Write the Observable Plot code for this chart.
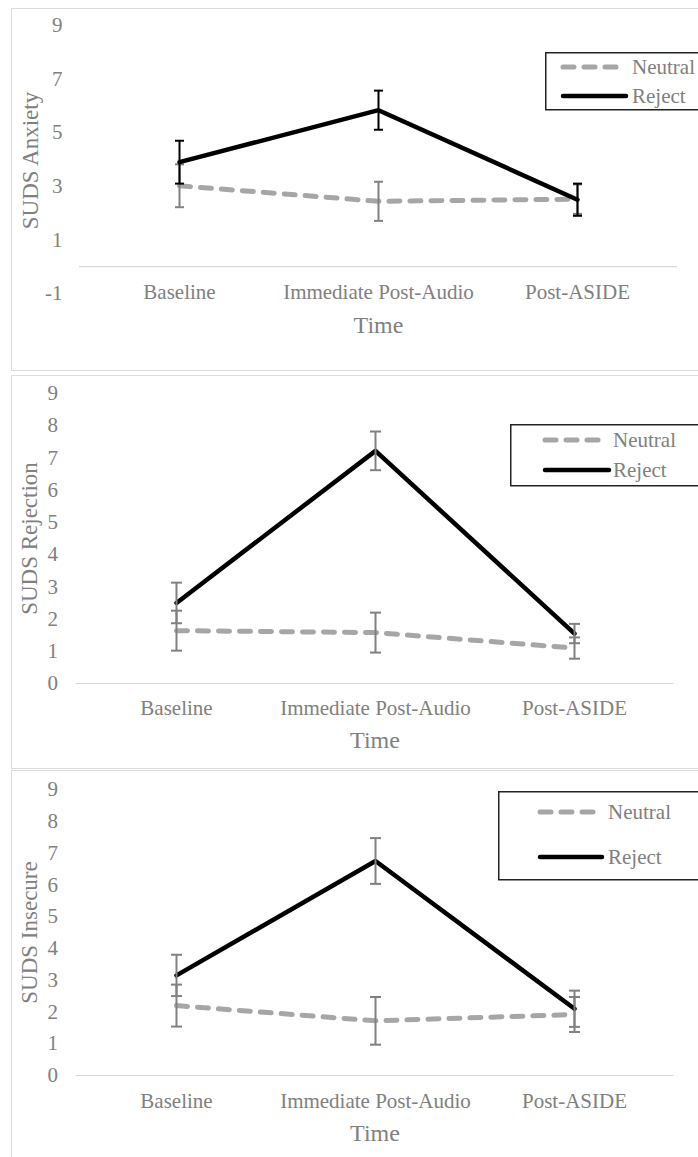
<!DOCTYPE html>
<html>
<head>
<meta charset="utf-8">
<script src="https://cdn.jsdelivr.net/npm/d3@7"></script>
<script src="https://cdn.jsdelivr.net/npm/@observablehq/plot@0.6"></script>
<style>
  html, body { margin: 0; padding: 0; background: #fff; }
  body { position: relative; width: 698px; height: 1157px; overflow: hidden; font-family: "Liberation Serif", "Times New Roman", serif; }
  .panel { position: absolute; border: 1px solid #dcdcdc; border-right: none; box-sizing: border-box; }
  .chart { position: absolute; left: 0; }
  .legend { position: absolute; }
</style>
</head>
<body>
<script>
const times = ["Baseline", "Immediate Post-Audio", "Post-ASIDE"];
const groups = ["Neutral", "Reject"];

// SUDS Anxiety
const anxietyNeutral = [3.02, 2.44, 2.52];
const anxietyNeutralErr = [0.8, 0.73, 0.55];
const anxietyReject = [3.9, 5.84, 2.5];
const anxietyRejectErr = [0.8, 0.73, 0.6];
const anxietyTicks = [-1, 1, 3, 5, 7, 9];

// SUDS Rejection
const rejectionNeutral = [1.64, 1.58, 1.1];
const rejectionNeutralErr = [0.62, 0.62, 0.33];
const rejectionReject = [2.5, 7.22, 1.55];
const rejectionRejectErr = [0.63, 0.6, 0.3];
const rejectionTicks = [0, 1, 2, 3, 4, 5, 6, 7, 8, 9];

// SUDS Insecure
const insecureNeutral = [2.2, 1.72, 1.92];
const insecureNeutralErr = [0.66, 0.75, 0.55];
const insecureReject = [3.15, 6.75, 2.1];
const insecureRejectErr = [0.65, 0.72, 0.57];
const insecureTicks = [0, 1, 2, 3, 4, 5, 6, 7, 8, 9];

const FONT = "'Liberation Serif', 'Times New Roman', serif";
const GREY_TEXT = "#808080";
const NEUTRAL_COLOR = "#a6a6a6";
const REJECT_COLOR = "#000000";
const DASH = "11,10";

const cap = {
  draw(ctx, size) {
    const w = Math.sqrt(size / Math.PI);
    ctx.moveTo(-w, 0);
    ctx.lineTo(w, 0);
  }
};

function rows(vals, errs) {
  return times.map((t, i) => ({ time: t, v: vals[i], e: errs[i] }));
}

function panel(cfg) {
  const neutral = rows(cfg.neutral, cfg.neutralErr);
  const reject = rows(cfg.reject, cfg.rejectErr);
  const errMarks = (data, color, r) => [
    Plot.ruleX(data, { x: "time", y1: d => d.v - d.e, y2: d => d.v + d.e, stroke: color, strokeWidth: 2 }),
    Plot.dot(data, { x: "time", y: d => d.v + d.e, symbol: cap, r, stroke: color, strokeWidth: 2, fill: "none" }),
    Plot.dot(data, { x: "time", y: d => d.v - d.e, symbol: cap, r, stroke: color, strokeWidth: 2, fill: "none" })
  ];
  const chart = Plot.plot({
    width: 698,
    height: cfg.height,
    marginLeft: cfg.xRange[0],
    marginRight: 698 - cfg.xRange[1],
    marginTop: cfg.yRange[1],
    marginBottom: cfg.marginBottom,
    style: { fontFamily: FONT, fontSize: "21px", color: GREY_TEXT, background: "transparent", overflow: "visible" },
    x: { type: "point", domain: times, range: cfg.xRange, padding: 0.5 },
    y: { domain: cfg.domain, range: cfg.yRange },
    marks: [
      Plot.ruleY([0], { stroke: "#d9d9d9", strokeWidth: 1.2 }),
      Plot.axisY({ ticks: cfg.ticks, tickSize: 0, tickPadding: cfg.tickPadding, tickFormat: d => String(d), label: null, fill: GREY_TEXT, fontSize: 21 }),
      Plot.axisX({ tickSize: 0, tickPadding: 3, label: null, fill: GREY_TEXT, fontSize: 21 }),
      Plot.text([cfg.title], { text: d => d, frameAnchor: "left", textAnchor: "middle", lineAnchor: "middle", rotate: -90, dx: cfg.titleDx, dy: cfg.titleDy, fontSize: 23, fill: GREY_TEXT }),
      Plot.text(["Time"], { text: d => d, frameAnchor: "bottom", textAnchor: "middle", lineAnchor: "middle", dy: cfg.timeDy, fontSize: 24, fill: GREY_TEXT }),
      Plot.line(neutral, { x: "time", y: "v", stroke: NEUTRAL_COLOR, strokeWidth: 5, strokeDasharray: DASH, strokeLinecap: "round" }),
      ...errMarks(neutral, cfg.neutralErrColor, cfg.capR),
      Plot.line(reject, { x: "time", y: "v", stroke: REJECT_COLOR, strokeWidth: 4.5, strokeLinecap: "round" }),
      ...errMarks(reject, cfg.rejectErrColor, cfg.capR)
    ]
  });
  chart.classList.add("chart");
  chart.style.top = cfg.top + "px";

  const box = document.createElement("div");
  box.className = "panel";
  Object.assign(box.style, { left: "11px", top: cfg.box[0] + "px", width: "700px", height: (cfg.box[1] - cfg.box[0]) + "px" });
  if (cfg.noBottom) box.style.borderBottom = "none";
  document.body.appendChild(box);
  document.body.appendChild(chart);

  // legend
  const L = cfg.legend;
  const svg = d3.create("svg")
    .attr("class", "legend")
    .attr("width", 698 - L.left)
    .attr("height", L.height + 2)
    .style("left", L.left + "px")
    .style("top", L.top + "px");
  svg.append("rect").attr("x", 0.75).attr("y", 0.75).attr("width", 300).attr("height", L.height)
    .attr("fill", "#fff").attr("stroke", "#222").attr("stroke-width", 1.5);
  groups.forEach((g, i) => {
    const yy = L.rows[i];
    svg.append("line").attr("x1", L.lineX[0]).attr("x2", i === 0 ? L.lineX[1] : L.lineX[1] + 4)
      .attr("y1", yy).attr("y2", yy)
      .attr("stroke", i === 0 ? NEUTRAL_COLOR : REJECT_COLOR)
      .attr("stroke-width", i === 0 ? 5 : 4.5)
      .attr("stroke-linecap", "round")
      .attr("stroke-dasharray", i === 0 ? DASH : null);
    svg.append("text").attr("x", L.textX).attr("y", yy).attr("dy", "0.35em")
      .attr("fill", GREY_TEXT).attr("font-family", FONT).attr("font-size", 21).text(g);
  });
  document.body.appendChild(svg.node());
}

panel({
  top: 0, height: 370, box: [8, 371],
  domain: [-1, 9], yRange: [293, 25], xRange: [79, 677], marginBottom: 89,
  ticks: anxietyTicks, tickPadding: 17,
  title: "SUDS Anxiety", titleDx: -49, titleDy: 7, timeDy: 44,
  neutral: anxietyNeutral, neutralErr: anxietyNeutralErr,
  reject: anxietyReject, rejectErr: anxietyRejectErr,
  neutralErrColor: "#808080", rejectErrColor: "#000", capR: 4.5,
  legend: { left: 545, top: 52, height: 57, rows: [15, 44], lineX: [18, 77], textX: 87 }
});

panel({
  top: 372, height: 396, box: [375, 769],
  domain: [0, 9], yRange: [311, 21], xRange: [75.5, 673.5], marginBottom: 71,
  ticks: rejectionTicks, tickPadding: 18,
  title: "SUDS Rejection", titleDx: -46.5, titleDy: -7, timeDy: 43,
  neutral: rejectionNeutral, neutralErr: rejectionNeutralErr,
  reject: rejectionReject, rejectErr: rejectionRejectErr,
  neutralErrColor: "#808080", rejectErrColor: "#808080", capR: 5.5,
  legend: { left: 510, top: 424, height: 61, rows: [16, 46], lineX: [35, 95], textX: 103 }
});

panel({
  top: 769, height: 388, box: [770, 1170], noBottom: true,
  domain: [0, 9], yRange: [306, 20], xRange: [75.5, 673.5], marginBottom: 67,
  ticks: insecureTicks, tickPadding: 18,
  title: "SUDS Insecure", titleDx: -46.5, titleDy: -7.5, timeDy: 43,
  neutral: insecureNeutral, neutralErr: insecureNeutralErr,
  reject: insecureReject, rejectErr: insecureRejectErr,
  neutralErrColor: "#808080", rejectErrColor: "#808080", capR: 5.5,
  legend: { left: 498, top: 791, height: 88, rows: [21, 66], lineX: [42, 100], textX: 110 }
});
</script>
</body>
</html>
